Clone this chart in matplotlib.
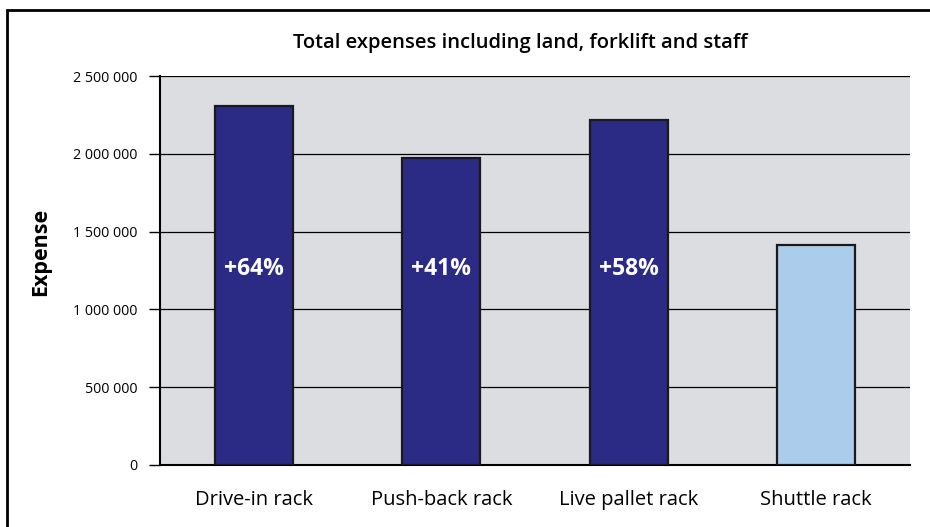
import matplotlib.pyplot as plt
from matplotlib.patches import Rectangle
from matplotlib.ticker import FuncFormatter

categories = ["Drive-in rack", "Push-back rack", "Live pallet rack", "Shuttle rack"]
expenses = [2310000, 1975000, 2215000, 1415000]
increase_labels = ["+64%", "+41%", "+58%", ""]
yticks = [0, 500000, 1000000, 1500000, 2000000, 2500000]

plt.rcParams["font.family"] = ["Open Sans", "DejaVu Sans"]

W, H = 930, 527
fig = plt.figure(figsize=(W / 100, H / 100), dpi=100)

# frame round the chart (left and top edges visible)
fig.patches.append(
    Rectangle((7 / W, -0.1), 1.1, (H - 10) / H + 0.1, transform=fig.transFigure,
              fill=False, edgecolor="black", linewidth=2)
)

ax = fig.add_axes([160 / W, (H - 465) / H, 750 / W, 389 / H])
ax.set_facecolor("#dcdde0")

colors = ["#2b2a84", "#2b2a84", "#2b2a84", "#abcdeb"]
x = range(len(categories))
ax.bar(x, expenses, width=0.416, color=colors, edgecolor="#1a1a1a",
       linewidth=1.6, zorder=3)

for i, lab in enumerate(increase_labels):
    if lab:
        ax.text(i, 1260000, lab, color="white", fontsize=16.5, fontweight="bold",
                ha="center", va="center", zorder=4)

ax.set_xlim(-0.5, 3.5)
ax.set_ylim(0, 2500000)
ax.set_yticks(yticks)
ax.yaxis.set_major_formatter(
    FuncFormatter(lambda v, p: f"{int(v):,}".replace(",", " "))
)
ax.grid(axis="y", color="black", linewidth=0.9, zorder=1)
ax.set_axisbelow(True)

for s in ["top", "right"]:
    ax.spines[s].set_visible(False)
ax.spines["left"].set_linewidth(1.5)
ax.spines["bottom"].set_linewidth(1.5)

ax.set_xticks(list(x))
ax.set_xticklabels(categories, fontsize=14.5)
ax.tick_params(axis="x", length=0, pad=18)
ax.tick_params(axis="y", length=8, width=1, labelsize=10.3, pad=8)

ax.set_ylabel("Expense", fontsize=15.5, fontweight="bold")
ax.yaxis.set_label_coords(-0.145, 0.548)
ax.set_title("Total expenses including land, forklift and staff",
             fontsize=14.5, fontweight="semibold", pad=20, x=0.48)

fig.savefig("out.png", dpi=100)
